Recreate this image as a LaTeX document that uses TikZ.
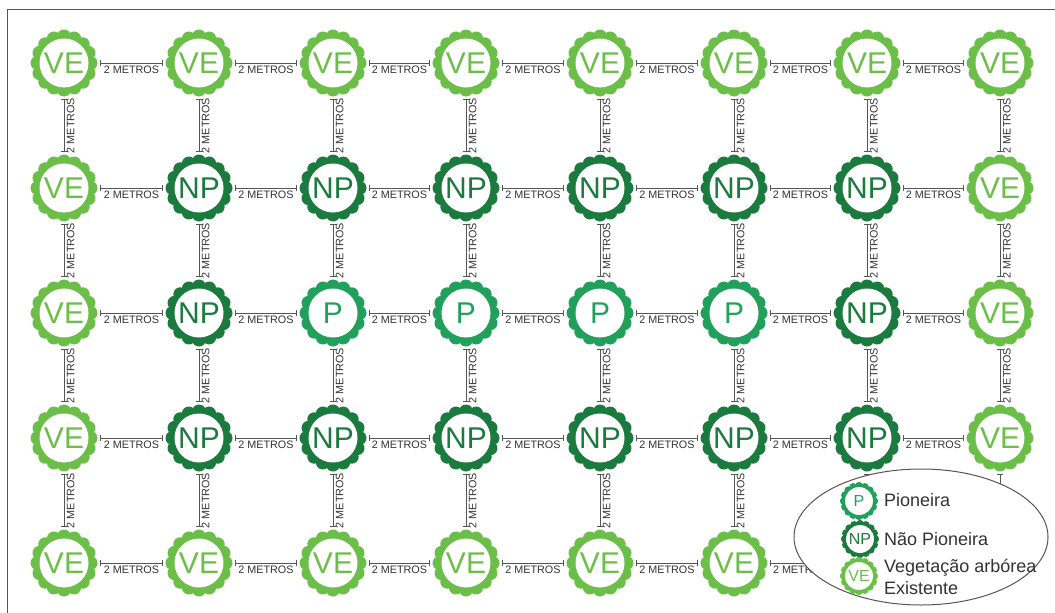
\documentclass[tikz,border=0pt]{standalone}
\usepackage{fontspec}
\setmainfont{Liberation Sans}
\usetikzlibrary{arrows.meta}
\definecolor{vecol}{HTML}{6BBE47}
\definecolor{npcol}{HTML}{1B7A3D}
\definecolor{ppcol}{HTML}{21A05B}
\definecolor{lincol}{HTML}{555555}
\definecolor{txtcol}{HTML}{333333}

\newcommand{\flowershape}[3]{%
\begin{scope}[shift={#1}, scale=#3]
\fill[#2] (0,0) circle (28pt);
\foreach \k in {0,...,15} \fill[#2] ({\k*360/16+90}:26.5pt) circle (7pt);
\fill[white] (0,0) circle (24.5pt);
\end{scope}}

\newcommand{\fnode}[5]{%
\flowershape{(#2,#3)}{#4}{1}
\node[flw, text=#4] (#1) at (#2,#3) {#5};}

\newcommand{\lnode}[5]{%
\flowershape{(#2,#3)}{#4}{0.57}
\node[lflw, text=#4] (#1) at (#2,#3) {#5};}

\tikzset{
  flw/.style={circle, minimum size=72pt, inner sep=0pt, font=\fontsize{30}{30}\selectfont},
  lflw/.style={circle, minimum size=40pt, inner sep=0pt, font=\fontsize{16}{16}\selectfont},
  conn/.style={draw=lincol, line width=0.9pt, {Bar[width=6pt]}-{Bar[width=6pt]}},
  hl/.style={midway, anchor=north, inner sep=2.5pt, font=\fontsize{10.8}{11}\selectfont, text=txtcol},
  vl/.style={hl, rotate=90},
  legtxt/.style={anchor=west, inner sep=0pt, align=left, font=\fontsize{18}{21.5}\selectfont, text=txtcol}
}

\begin{document}
\begin{tikzpicture}[x=1pt, y=-1pt]
\fill[white] (0,0) rectangle (1055,613);
\useasboundingbox (0,0) rectangle (1055,613);
\draw[lincol, line width=0.8pt] (1055,9) -- (7,9) -- (7,613);

% row 1
\fnode{n11}{64}{63}{vecol}{VE}
\fnode{n12}{199}{63}{vecol}{VE}
\fnode{n13}{333}{63}{vecol}{VE}
\fnode{n14}{466}{63}{vecol}{VE}
\fnode{n15}{600}{63}{vecol}{VE}
\fnode{n16}{734}{63}{vecol}{VE}
\fnode{n17}{867}{63}{vecol}{VE}
\fnode{n18}{1000}{63}{vecol}{VE}
% row 2
\fnode{n21}{64}{188}{vecol}{VE}
\fnode{n22}{199}{188}{npcol}{NP}
\fnode{n23}{333}{188}{npcol}{NP}
\fnode{n24}{466}{188}{npcol}{NP}
\fnode{n25}{600}{188}{npcol}{NP}
\fnode{n26}{734}{188}{npcol}{NP}
\fnode{n27}{867}{188}{npcol}{NP}
\fnode{n28}{1000}{188}{vecol}{VE}
% row 3
\fnode{n31}{64}{313}{vecol}{VE}
\fnode{n32}{199}{313}{npcol}{NP}
\fnode{n33}{333}{313}{ppcol}{P}
\fnode{n34}{466}{313}{ppcol}{P}
\fnode{n35}{600}{313}{ppcol}{P}
\fnode{n36}{734}{313}{ppcol}{P}
\fnode{n37}{867}{313}{npcol}{NP}
\fnode{n38}{1000}{313}{vecol}{VE}
% row 4
\fnode{n41}{64}{438}{vecol}{VE}
\fnode{n42}{199}{438}{npcol}{NP}
\fnode{n43}{333}{438}{npcol}{NP}
\fnode{n44}{466}{438}{npcol}{NP}
\fnode{n45}{600}{438}{npcol}{NP}
\fnode{n46}{734}{438}{npcol}{NP}
\fnode{n47}{867}{438}{npcol}{NP}
\fnode{n48}{1000}{438}{vecol}{VE}
% row 5
\fnode{n51}{64}{563}{vecol}{VE}
\fnode{n52}{199}{563}{vecol}{VE}
\fnode{n53}{333}{563}{vecol}{VE}
\fnode{n54}{466}{563}{vecol}{VE}
\fnode{n55}{600}{563}{vecol}{VE}
\fnode{n56}{734}{563}{vecol}{VE}
% free ends hidden under the legend
\coordinate (h57) at (831,563);
\coordinate (v57) at (867,527);
\coordinate (v58) at (1000,527);

% horizontal connectors
\foreach \r in {1,...,4}
  \foreach \c [count=\d from 2] in {1,...,7}
    \draw[conn] (n\r\c) -- (n\r\d) node[hl] {2 METROS};
\foreach \c [count=\d from 2] in {1,...,5}
  \draw[conn] (n5\c) -- (n5\d) node[hl] {2 METROS};
\draw[conn] (n56) -- (h57) node[hl] {2 METROS};
% vertical connectors
\foreach \c in {1,...,6}
  \foreach \r [count=\s from 2] in {1,...,4}
    \draw[conn] (n\r\c) -- (n\s\c) node[vl] {2 METROS};
\foreach \c in {7,8}
  \foreach \r [count=\s from 2] in {1,...,3}
    \draw[conn] (n\r\c) -- (n\s\c) node[vl] {2 METROS};
\draw[conn] (n47) -- (v57);
\draw[conn] (n48) -- (v58);

% legend
\draw[lincol, line width=1pt, fill=white] (921,537) ellipse [x radius=127pt, y radius=68pt];
\lnode{lp}{859}{501}{ppcol}{P}
\lnode{lnp}{860}{539}{npcol}{NP}
\lnode{lve}{859}{576}{vecol}{VE}
\node[legtxt] (tp) at (884,500) {Pioneira};
\node[legtxt] (tnp) at (884,539) {Não Pioneira};
\node[legtxt] (tve) at (884,577) {Vegetação arbórea\\Existente};
\end{tikzpicture}
\end{document}
